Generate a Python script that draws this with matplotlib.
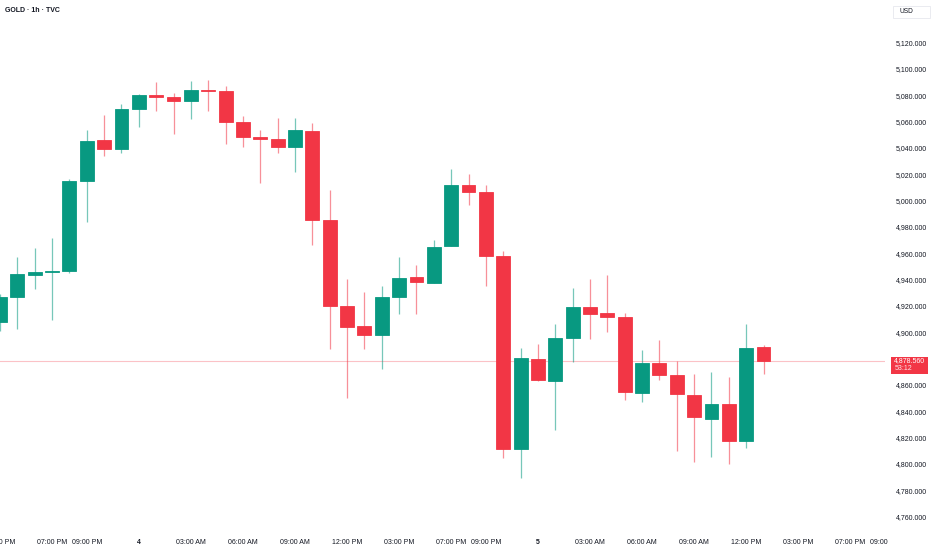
import matplotlib
matplotlib.use('Agg')
import matplotlib.pyplot as plt
from matplotlib.patches import Rectangle
import numpy as np

plt.rcParams['font.family'] = ['Liberation Sans Narrow', 'Liberation Sans', 'DejaVu Sans']

# hourly GOLD candles, bar index 0 = 00:00 on day 4
bars = np.arange(-8, 37)
opens = [4907.9, 4926.6, 4943.8, 4945.9, 4946.4, 5015.2, 5045.9, 5039.5, 5069.6, 5080.0,
         5079.0, 5076.0, 5084.3, 5083.3, 5059.5, 5048.4, 5047.1, 5040.6, 5053.2, 4985.3,
         4920.3, 4904.8, 4897.8, 4926.9, 4941.8, 4937.7, 4965.6, 5011.9, 5006.4, 4958.2,
         4811.4, 4879.8, 4863.3, 4895.7, 4919.5, 4914.5, 4911.9, 4854.2, 4877.0, 4867.9,
         4852.7, 4834.2, 4845.6, 4817.5, 4888.9]
highs = [4929.0, 4957.0, 4964.1, 4971.9, 5016.5, 5053.7, 5065.1, 5073.4, 5081.0, 5089.9,
         5082.0, 5090.9, 5091.7, 5087.1, 5064.3, 5053.7, 5063.0, 5063.0, 5058.8, 5008.1,
         4940.5, 4930.4, 4935.2, 4957.2, 4951.2, 4970.2, 5023.8, 5020.1, 5011.9, 4961.7,
         4888.4, 4891.0, 4906.4, 4933.7, 4940.5, 4943.8, 4914.9, 4886.6, 4894.2, 4878.3,
         4868.4, 4870.1, 4865.9, 4906.4, 4890.6]
lows = [4901.0, 4902.3, 4933.2, 4909.4, 4945.0, 4984.0, 5034.2, 5036.0, 5055.7, 5068.4,
        5050.7, 5061.8, 5068.4, 5043.1, 5041.0, 5013.2, 5036.0, 5022.0, 4966.4, 4887.1,
        4849.9, 4887.6, 4872.2, 4914.0, 4914.2, 4937.5, 4965.6, 4996.5, 4935.4, 4804.4,
        4789.2, 4863.1, 4825.6, 4877.7, 4894.7, 4900.5, 4848.6, 4847.3, 4863.8, 4810.1,
        4801.3, 4805.6, 4800.0, 4811.9, 4868.4]
closes = [4926.8, 4944.1, 4945.8, 4946.4, 5015.2, 5045.3, 5039.3, 5069.4, 5080.3, 5079.0,
          5075.7, 5084.1, 5083.3, 5059.5, 5048.4, 5047.1, 5040.6, 5053.7, 4985.3, 4920.3,
          4904.1, 4897.8, 4926.6, 4941.3, 4938.3, 4964.6, 5011.9, 5006.4, 4958.0, 4811.4,
          4880.5, 4863.6, 4896.0, 4919.5, 4914.2, 4911.9, 4854.5, 4877.0, 4867.9, 4853.4,
          4835.5, 4845.6, 4817.5, 4888.4, 4878.56]

last_price = 4878.56
countdown = '53:12'

time_pos = [-8, -5, -3, 0, 3, 6, 9, 12, 15, 18, 20, 23, 26, 29, 32, 35, 38, 41, 43]
time_labels = ['03:00 PM', '07:00 PM', '09:00 PM', '4', '03:00 AM', '06:00 AM', '09:00 AM',
               '12:00 PM', '03:00 PM', '07:00 PM', '09:00 PM', '5', '03:00 AM', '06:00 AM',
               '09:00 AM', '12:00 PM', '03:00 PM', '07:00 PM', '09:00 PM']
price_ticks = [4760, 4780, 4800, 4820, 4840, 4860, 4900, 4920, 4940, 4960, 4980, 5000,
               5020, 5040, 5060, 5080, 5100, 5120]

UP = '#089981'
DOWN = '#F23645'
TXT = '#131722'

fig = plt.figure(figsize=(9.32, 5.5), dpi=100)
ax = fig.add_axes([0, 22/550, 885/932, 528/550])

o = np.array(opens)
h = np.array(highs)
l = np.array(lows)
c = np.array(closes)
cols = [UP if c[i] >= o[i] else DOWN for i in range(len(bars))]

# wicks first, then bodies on top
ax.vlines(bars, l, h, colors=cols, linewidth=0.9, alpha=0.55, zorder=2)
ax.bar(bars, np.abs(c - o), bottom=np.minimum(o, c), width=0.8, color=cols,
       edgecolor=cols, linewidth=0.6, zorder=3)

# last price line
ax.axhline(last_price, color=DOWN, linewidth=0.8, alpha=0.3, zorder=1)

ax.set_xlim(-7.952, 42.68)
ax.set_ylim(4751.4, 5152.4)

for s in ax.spines.values():
    s.set_visible(False)

ax.yaxis.tick_right()
ax.set_yticks(price_ticks)
ax.set_yticklabels(['{:,.3f}'.format(v) for v in price_ticks])
ax.set_xticks(time_pos)
ax.set_xticklabels(time_labels)
ax.tick_params(axis='both', length=0, labelsize=5, colors=TXT)
ax.tick_params(axis='y', pad=8)
ax.tick_params(axis='x', pad=8)
for lbl in ax.get_xticklabels():
    if lbl.get_text() in ('4', '5'):
        lbl.set_fontweight('bold')

# price tag on the scale
trans = ax.get_yaxis_transform()
ax.add_patch(Rectangle((1.0073, 4868.2), 0.0418, 13.3, transform=trans,
                       facecolor=DOWN, edgecolor='none', clip_on=False, zorder=6))
ax.text(1.0105, last_price, '{:,.3f}'.format(last_price), transform=trans, color='white',
        fontsize=5, va='center', ha='left', clip_on=False, zorder=7)
ax.text(1.0105, last_price - 6.3, countdown, transform=trans, color='#fde3e6',
        fontsize=5, va='center', ha='left', clip_on=False, zorder=7)

# hide the time label that runs under the price scale
fig.add_artist(Rectangle((888/932, 0), 44/932, 24/550, transform=fig.transFigure,
                         facecolor='white', edgecolor='none', zorder=10))

fig.text(5/932, 1 - 10.5/550, 'GOLD · 1h · TVC', fontsize=5, fontweight='bold',
         color=TXT, va='center', ha='left')

# currency box
fig.add_artist(Rectangle((893/932, 1 - 18/550), 37/932, 12/550, transform=fig.transFigure,
                         facecolor='white', edgecolor='#e6e8ee', linewidth=0.6, zorder=5))
fig.text(899/932, 1 - 11.5/550, 'USD', fontsize=4.8, color=TXT, va='center', ha='left',
         zorder=6)

plt.savefig('out.png', dpi=100, facecolor='white')
